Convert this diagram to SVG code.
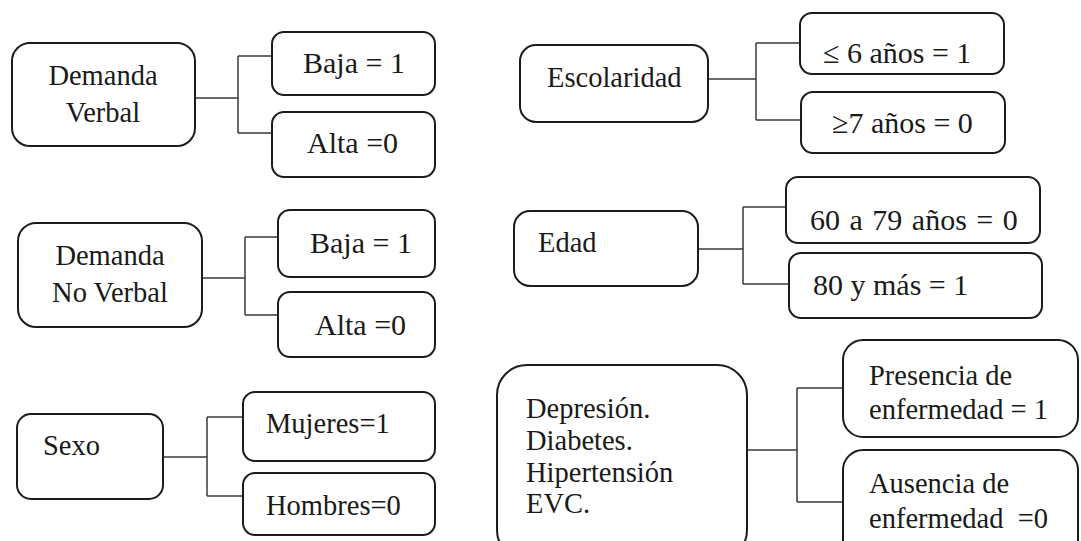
<svg xmlns="http://www.w3.org/2000/svg" width="1081" height="541" viewBox="0 0 1081 541">
<style>
.box{fill:#fff;stroke:#1c1c1c;stroke-width:2}
.t{font-family:"Liberation Serif","Times New Roman",serif;font-size:28.5px;fill:#1a1a1a}
.v{font-size:30px}
.c{text-anchor:middle}
.con{fill:none;stroke:#3a3a3a;stroke-width:1.5}
</style>
<rect width="1081" height="541" fill="#fff"/>
<g id="connectors">
<path class="con" d="M195,98H238M238,56V133M238,56H272M238,133H272"/>
<path class="con" d="M202,278H245M245,237V315M245,237H278M245,315H278"/>
<path class="con" d="M163,457H207M207,417V496M207,417H243M207,496H243"/>
<path class="con" d="M708,79H756M756,43V120M756,43H800M756,120H801"/>
<path class="con" d="M698,249H743M743,207V284M743,207H786M743,284H789"/>
<path class="con" d="M747,450H797M797,388V502M797,388H843M797,502H843"/>
</g>
<g id="demanda-verbal"><rect class="box" x="12" y="43" width="183" height="103" rx="18"/><text class="t c" x="103" y="85">Demanda</text><text class="t c" x="103" y="122">Verbal</text></g>
<g id="dv-baja"><rect class="box" x="272" y="32" width="163" height="63" rx="12"/><text class="t v" x="303" y="73">Baja = 1</text></g>
<g id="dv-alta"><rect class="box" x="272" y="112" width="163" height="65" rx="12"/><text class="t v" x="307" y="153">Alta =0</text></g>
<g id="demanda-noverbal"><rect class="box" x="18" y="223" width="184" height="104" rx="18"/><text class="t c" x="110" y="265">Demanda</text><text class="t c" x="110" y="302">No Verbal</text></g>
<g id="dnv-baja"><rect class="box" x="278" y="210" width="157" height="67" rx="12"/><text class="t v" x="310" y="253">Baja = 1</text></g>
<g id="dnv-alta"><rect class="box" x="278" y="292" width="157" height="65" rx="12"/><text class="t v" x="315" y="335">Alta =0</text></g>
<g id="sexo"><rect class="box" x="17" y="414" width="146" height="85" rx="14"/><text class="t" x="43" y="455">Sexo</text></g>
<g id="mujeres"><rect class="box" x="243" y="392" width="192" height="69" rx="12"/><text class="t" x="266" y="433" font-size="29.5">Mujeres=1</text></g>
<g id="hombres"><rect class="box" x="243" y="473" width="192" height="62" rx="12"/><text class="t" x="266" y="515" font-size="29.5">Hombres=0</text></g>
<g id="escolaridad"><rect class="box" x="520" y="45" width="188" height="77" rx="16"/><text class="t" x="547" y="87">Escolaridad</text></g>
<g id="esc-le6"><rect class="box" x="800" y="13" width="204" height="61" rx="12"/><text class="t v" x="823" y="63">≤ 6 años = 1</text></g>
<g id="esc-ge7"><rect class="box" x="801" y="92" width="204" height="61" rx="12"/><text class="t v" x="832" y="133">≥7 años = 0</text></g>
<g id="edad"><rect class="box" x="514" y="211" width="184" height="75" rx="16"/><text class="t" x="538" y="252">Edad</text></g>
<g id="edad-60"><rect class="box" x="786" y="177" width="254" height="66" rx="12"/><text class="t v" x="810" y="230" word-spacing="2">60 a 79 años = 0</text></g>
<g id="edad-80"><rect class="box" x="789" y="253" width="253" height="65" rx="12"/><text class="t v" x="813" y="295">80 y más = 1</text></g>
<g id="enfermedades"><rect class="box" x="497" y="365" width="250" height="195" rx="30"/><text class="t" x="526" y="418">Depresión.</text><text class="t" x="526" y="450">Diabetes.</text><text class="t" x="526" y="482">Hipertensión</text><text class="t" x="526" y="513">EVC.</text></g>
<g id="presencia"><rect class="box" x="843" y="340" width="235" height="97" rx="20"/><text class="t" x="869" y="385">Presencia de</text><text class="t" x="869" y="419">enfermedad = 1</text></g>
<g id="ausencia"><rect class="box" x="843" y="450" width="235" height="110" rx="20"/><text class="t" x="869" y="493">Ausencia de</text><text class="t" x="869" y="528" xml:space="preserve">enfermedad  =0</text></g>
</svg>
